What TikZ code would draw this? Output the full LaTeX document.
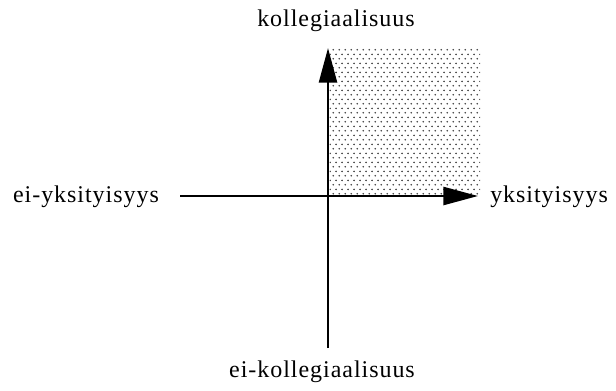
\documentclass[tikz,border=0pt]{standalone}
\usepackage{fontspec}
\setmainfont{Liberation Serif}
\usetikzlibrary{arrows.meta,patterns.meta}
\tikzdeclarepattern{
  name=mydots,
  type=uncolored,
  bottom left={(0pt,0pt)},
  top right={(4.3pt,7pt)},
  tile size={(4.3pt,7pt)},
  code={
    \fill (1pt,1pt) circle (0.7pt);
    \fill (3.15pt,4.5pt) circle (0.7pt);
  }
}
\begin{document}
\begin{tikzpicture}[x=0.75pt,y=-0.75pt,
  lbl/.style={inner sep=0pt,font=\fontsize{18}{21}\selectfont\addfontfeatures{LetterSpace=4}},
  axis/.style={line width=1.9pt,-{Triangle[length=26pt,width=13.5pt]}}]
\useasboundingbox (0,0) rectangle (616,390);
\fill[pattern=mydots,pattern color=black!75] (329.5,48) rectangle (480,195);
\coordinate (vb) at (328,348);
\coordinate (vt) at (328,48);
\coordinate (hl) at (180,196);
\coordinate (hr) at (478,196);
\draw[axis] (hl) -- (hr);
\draw[axis] (vb) -- (vt);
\node[lbl,anchor=base] (top) at (336,26) {kollegiaalisuus};
\node[lbl,anchor=base] (bot) at (322,377) {ei-kollegiaalisuus};
\node[lbl,anchor=base] (lft) at (86,202) {ei-yksityisyys};
\node[lbl,anchor=base west] (rgt) at (490,202) {yksityisyys};
\end{tikzpicture}
\end{document}
